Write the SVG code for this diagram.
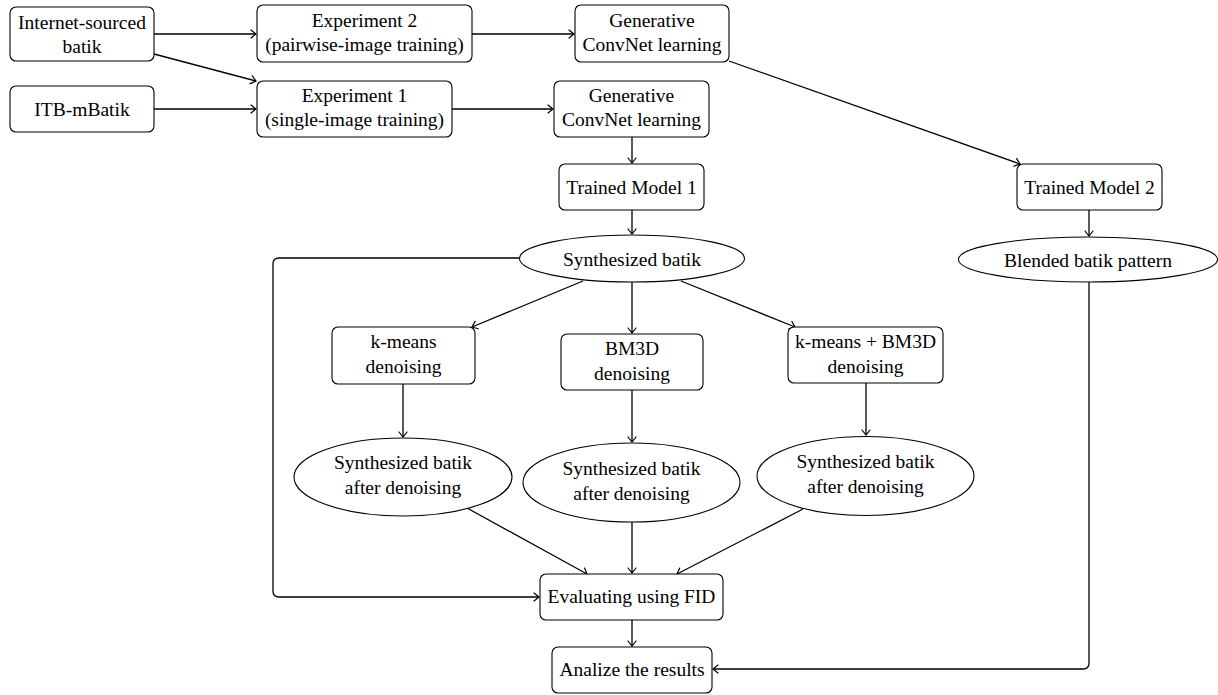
<svg xmlns="http://www.w3.org/2000/svg" width="1218" height="695" viewBox="0 0 1218 695">
<style>
.n{fill:#fff;stroke:#000;stroke-width:1.1}
text{font-family:'Liberation Serif',serif;font-size:19.5px;fill:#000;text-anchor:middle}
.e{fill:none;stroke:#000;stroke-width:1.3;marker-end:url(#a)}
</style>
<defs>
<marker id="a" markerUnits="userSpaceOnUse" markerWidth="12" markerHeight="12" viewBox="-6 -6 12 12" refX="0" refY="0" orient="auto" overflow="visible">
<path d="M-5,-4 Q-1.5,-1.2 0,0 Q-1.5,1.2 -5,4" fill="none" stroke="#000" stroke-width="1.2" stroke-linecap="round"/>
</marker>
</defs>
<rect width="1218" height="695" fill="#fff"/>
<g id="connectors">
<path class="e" d="M154,34 H256"/>
<path class="e" d="M154,54 L256,81"/>
<path class="e" d="M154,109 H256"/>
<path class="e" d="M472,34 H574"/>
<path class="e" d="M452,109 H553"/>
<path class="e" d="M729,61 L1020,164"/>
<path class="e" d="M632,137 V163"/>
<path class="e" d="M632,210 V234"/>
<path class="e" d="M1089,210 V236"/>
<path class="e" d="M583,281 L472,327"/>
<path class="e" d="M632,282 V333"/>
<path class="e" d="M681,281 L795,327"/>
<path class="e" d="M403,384 V437"/>
<path class="e" d="M632,390 V442"/>
<path class="e" d="M866,383 V435"/>
<path class="e" d="M467,508 L587,574"/>
<path class="e" d="M632,522 V573"/>
<path class="e" d="M803,509 L677,574"/>
<path class="e" d="M519,258 H279 Q273,258 273,264 V591 Q273,597 279,597 H539"/>
<path class="e" d="M632,620 V646"/>
<path class="e" d="M1089,282 V663 Q1089,669 1083,669 H713"/>
</g>
<g font-family="Liberation Serif, serif" font-size="19.5" text-anchor="middle">
<g id="internet">
<rect class="n" x="10" y="7" width="144" height="54" rx="6"/>
<text x="82" y="29">Internet-sourced</text>
<text x="82" y="53">batik</text>
</g>
<g id="itb">
<rect class="n" x="10" y="86" width="144" height="46" rx="6"/>
<text x="82" y="116">ITB-mBatik</text>
</g>
<g id="exp2">
<rect class="n" x="257" y="5" width="215" height="57" rx="6"/>
<text x="364.5" y="27">Experiment 2</text>
<text x="364.5" y="51">(pairwise-image training)</text>
</g>
<g id="exp1">
<rect class="n" x="257" y="81" width="195" height="56" rx="6"/>
<text x="354.5" y="102">Experiment 1</text>
<text x="354.5" y="126">(single-image training)</text>
</g>
<g id="gcn2">
<rect class="n" x="575" y="5" width="154" height="57" rx="6"/>
<text x="652" y="27">Generative</text>
<text x="652" y="51">ConvNet learning</text>
</g>
<g id="gcn1">
<rect class="n" x="554" y="81" width="155" height="56" rx="6"/>
<text x="631.5" y="102">Generative</text>
<text x="631.5" y="126">ConvNet learning</text>
</g>
<g id="tm1">
<rect class="n" x="559" y="164" width="145" height="46" rx="6"/>
<text x="631.5" y="194">Trained Model 1</text>
</g>
<g id="tm2">
<rect class="n" x="1017" y="164" width="145" height="46" rx="6"/>
<text x="1089.5" y="194">Trained Model 2</text>
</g>
<g id="synth">
<ellipse class="n" cx="632" cy="258.5" rx="112.5" ry="23.5"/>
<text x="632" y="266">Synthesized batik</text>
</g>
<g id="blended">
<ellipse class="n" cx="1088" cy="259.5" rx="129.5" ry="22.5"/>
<text x="1088" y="267">Blended batik pattern</text>
</g>
<g id="kmeans">
<rect class="n" x="332" y="327" width="143" height="57" rx="6"/>
<text x="403.5" y="348">k-means</text>
<text x="403.5" y="373">denoising</text>
</g>
<g id="bm3d">
<rect class="n" x="561" y="334" width="142" height="56" rx="6"/>
<text x="632" y="355">BM3D</text>
<text x="632" y="380">denoising</text>
</g>
<g id="kbm3d">
<rect class="n" x="788" y="327" width="155" height="56" rx="6"/>
<text x="865.5" y="348">k-means + BM3D</text>
<text x="865.5" y="373">denoising</text>
</g>
<g id="ell1">
<ellipse class="n" cx="403" cy="477" rx="109" ry="39"/>
<text x="403" y="469">Synthesized batik</text>
<text x="403" y="494">after denoising</text>
</g>
<g id="ell2">
<ellipse class="n" cx="631.5" cy="482.5" rx="108.5" ry="39.5"/>
<text x="631.5" y="475">Synthesized batik</text>
<text x="631.5" y="500">after denoising</text>
</g>
<g id="ell3">
<ellipse class="n" cx="865.5" cy="476" rx="108.5" ry="39.5"/>
<text x="865.5" y="468">Synthesized batik</text>
<text x="865.5" y="493">after denoising</text>
</g>
<g id="eval">
<rect class="n" x="540" y="574" width="183" height="46" rx="6"/>
<text x="631.5" y="603">Evaluating using FID</text>
</g>
<g id="analize">
<rect class="n" x="552" y="647" width="160" height="46" rx="6"/>
<text x="632" y="676">Analize the results</text>
</g>
</g>
</svg>
